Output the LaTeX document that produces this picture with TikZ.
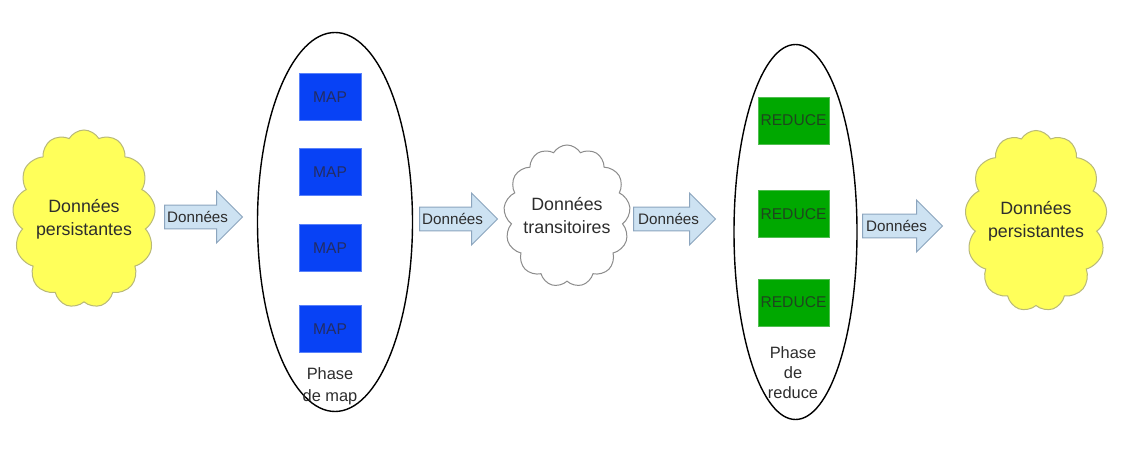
\documentclass[tikz,border=0pt]{standalone}
\usepackage{fontspec}
\setmainfont{Liberation Sans}
\usetikzlibrary{shapes.symbols,shapes.arrows,shapes.geometric}
\definecolor{cloudyellow}{RGB}{255,255,90}
\definecolor{cloudedge}{RGB}{185,185,120}
\definecolor{arrowfill}{RGB}{205,226,242}
\definecolor{arrowedge}{RGB}{140,165,190}
\definecolor{mapblue}{RGB}{8,66,245}
\definecolor{mapedge}{RGB}{90,130,250}
\definecolor{maptext}{RGB}{35,45,100}
\definecolor{redgreen}{RGB}{0,168,0}
\definecolor{rededge}{RGB}{80,190,80}
\definecolor{redtext}{RGB}{30,70,30}
\definecolor{txt}{RGB}{45,45,45}
\tikzset{
  datacloud/.style={cloud, cloud puffs=13, cloud puff arc=120, cloud ignores aspect,
    draw=cloudedge, line width=0.5pt, text=txt, align=center, inner sep=0pt,
    font=\fontsize{8.9}{11.5}\selectfont},
  flowarrow/.style={single arrow, draw=arrowedge, fill=arrowfill, line width=0.5pt,
    minimum width=20pt, inner xsep=0.3pt, inner ysep=2.8pt, anchor=tail, text=txt,
    font=\fontsize{7.6}{9}\selectfont},
  phasebox/.style={ellipse, draw=black, line width=0.7pt, inner sep=0pt},
  mapbox/.style={rectangle, fill=mapblue, draw=mapedge, line width=0.4pt,
    minimum width=31pt, minimum height=23.5pt, inner sep=0pt, text=maptext,
    font=\fontsize{7.8}{9}\selectfont},
  redbox/.style={rectangle, fill=redgreen, draw=rededge, line width=0.4pt,
    minimum width=35.5pt, minimum height=23.5pt, inner sep=0pt, text=redtext,
    font=\fontsize{7.8}{9}\selectfont},
  phaselabel/.style={align=center, text=txt, inner sep=0pt}
}
\begin{document}
\begin{tikzpicture}[x=0.5pt,y=-0.5pt]
\useasboundingbox[fill=white] (0,0) rectangle (1140,458);
% clouds
\node[datacloud, fill=cloudyellow, minimum width=71.5pt, minimum height=89pt] (c1) at (84,219) {Données\\persistantes};
\node[datacloud, fill=white, draw=black!45, minimum width=62.5pt, minimum height=71pt] (c2) at (567,216) {Données\\transitoires};
\node[datacloud, fill=cloudyellow, minimum width=71pt, minimum height=90.5pt] (c3) at (1036,221) {Données\\persistantes};
% phases
\node[phasebox, minimum width=77.5pt, minimum height=189.5pt] (pm) at (335,222) {};
\node[phasebox, minimum width=61.5pt, minimum height=187.5pt] (pr) at (795.5,232) {};
% map boxes
\node[mapbox] (m1) at (330,97) {MAP};
\node[mapbox] (m2) at (330,172) {MAP};
\node[mapbox] (m3) at (330,248) {MAP};
\node[mapbox] (m4) at (330,329) {MAP};
\node[phaselabel, font=\fontsize{8.2}{11}\selectfont] (lm) at (330,386) {Phase\\de map};
% reduce boxes
\node[redbox] (r1) at (793.5,120.5) {REDUCE};
\node[redbox] (r2) at (793.5,214) {REDUCE};
\node[redbox] (r3) at (793.5,302.5) {REDUCE};
\node[phaselabel, font=\fontsize{8.2}{10}\selectfont] (lr) at (793,373) {Phase\\de\\reduce};
% arrows
\node[flowarrow, minimum height=39pt] (a1) at (164,217) {Données};
\node[flowarrow, minimum height=39pt] (a2) at (419,219) {Données};
\node[flowarrow, minimum height=41pt] (a3) at (633,219) {Données};
\node[flowarrow, minimum height=40pt] (a4) at (862,226) {Données};
\end{tikzpicture}
\end{document}
